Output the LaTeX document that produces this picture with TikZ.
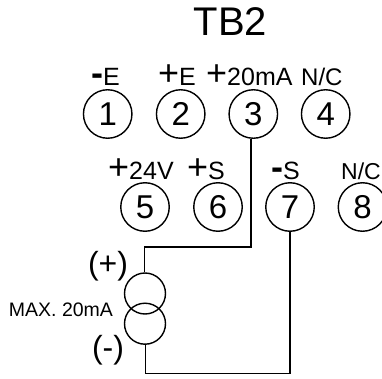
\documentclass[tikz,border=0pt]{standalone}
\usepackage{fontspec}
\setmainfont{Liberation Sans}
\newcommand{\fsz}[1]{\fontsize{#1}{#1}\selectfont}
\tikzset{
  terminal/.style={draw,circle,line width=1.4pt,minimum size=48.5pt,inner sep=0pt,font=\fsz{33}},
  source/.style={draw,circle,line width=1.4pt,minimum size=41pt,inner sep=0pt},
  wire/.style={line width=1.4pt,line join=miter},
  lab/.style={anchor=base west,inner sep=0pt,font=\fsz{25}},
  note/.style={anchor=base,inner sep=0pt}
}
\newcommand{\bigsign}[1]{{\fsz{36}#1}}
\begin{document}
\begin{tikzpicture}[x=1pt,y=-1pt]
\useasboundingbox (0,0) rectangle (382,379);
\node[note,font=\fsz{40}] (title) at (230.5,36) {TB2};
\node[terminal] (n1) at (107.7,114) {1};
\node[terminal] (n2) at (180.7,114) {2};
\node[terminal] (n3) at (253.3,114) {3};
\node[terminal] (n4) at (325.7,114) {4};
\node[terminal] (n5) at (145,207) {5};
\node[terminal] (n6) at (218,207) {6};
\node[terminal] (n7) at (290,207) {7};
\node[terminal] (n8) at (362.5,207) {8};
\node[lab] (l1) at (91,86) {\textbf{\bigsign{-}}E};
\node[lab] (l2) at (158,86) {\bigsign{+}E};
\node[lab] (l3) at (206,86) {\bigsign{+}20mA};
\node[lab,font=\fsz{24}] (l4) at (301,86) {N/C};
\node[lab] (l5) at (108,180) {\bigsign{+}24V};
\node[lab] (l6) at (187,180) {\bigsign{+}S};
\node[lab] (l7) at (271,180) {\textbf{\bigsign{-}}S};
\node[lab,font=\fsz{23}] (l8) at (341,180) {N/C};
\node[source] (s1) at (145,293.5) {};
\node[source] (s2) at (145,323.7) {};
\node[note,font=\fsz{32}] (pos) at (108,274) {(+)};
\node[note,font=\fsz{32}] (neg) at (108,358) {(-)};
\node[note,font=\fsz{19.5}] (max) at (61,316) {MAX. 20mA};
\coordinate (w1) at (251,247);
\coordinate (w2) at (144.5,247);
\coordinate (w3) at (145.3,373.7);
\draw[wire] ([xshift=-2.3pt]n3.south) -- (w1) -- (w2) -- ([xshift=-.5pt]s1.north);
\draw[wire] ([xshift=.3pt]s2.south) -- (w3) -| (n7.south);
\end{tikzpicture}
\end{document}
